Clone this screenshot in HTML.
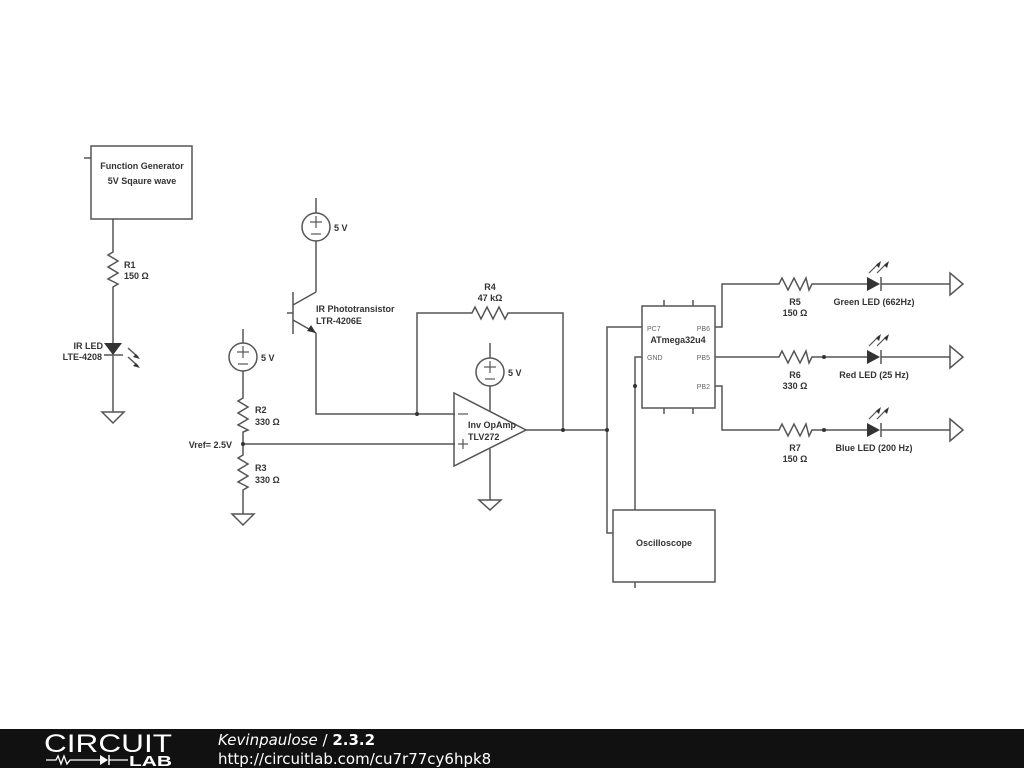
<!DOCTYPE html>
<html><head><style>
html,body{margin:0;padding:0;background:#fff;width:1024px;height:768px;overflow:hidden;font-family:"Liberation Sans",sans-serif}
svg text{font-family:"Liberation Sans",sans-serif;font-weight:bold;font-size:9px;fill:#333}
</style></head><body>
<svg width="1024" height="768" viewBox="0 0 1024 768" xmlns="http://www.w3.org/2000/svg">
<g stroke="#555" stroke-width="1.5" fill="none">
<rect x="91" y="146" width="101" height="73"/>
<line x1="84" y1="158" x2="91" y2="158"/>
<polyline points="113,219 113,252 108,255 118,261 108,267 118,273 108,279 118,284 113,287 113,343"/>
<line x1="113" y1="355" x2="113" y2="412"/>
<line x1="104" y1="355" x2="123" y2="355"/>
<polygon points="102,412 124,412 113,423"/>
<line x1="128" y1="348" x2="138" y2="357"/><line x1="128" y1="357" x2="138" y2="366"/>
<line x1="316" y1="198" x2="316" y2="213"/>
<circle cx="316" cy="227" r="14"/>
<line x1="316" y1="241" x2="316" y2="292"/>
<line x1="293" y1="292" x2="293" y2="334"/>
<line x1="287" y1="313" x2="293" y2="313"/>
<line x1="293" y1="305" x2="316" y2="292"/>
<line x1="293" y1="320" x2="316" y2="333"/>
<polyline points="316,333 316,414 455,414"/>
<line x1="243" y1="329" x2="243" y2="343"/>
<circle cx="243" cy="357" r="14"/>
<polyline points="243,371 243,398 238,401 248,407 238,413 248,419 238,425 248,430 243,432 243,455 238,458 248,464 238,470 248,476 238,482 248,487 243,490 243,514"/>
<polygon points="232,514 254,514 243,525"/>
<line x1="243" y1="444" x2="455" y2="444"/>
<polygon points="454,393 454,466 526,430"/>
<line x1="490" y1="343" x2="490" y2="358"/>
<circle cx="490" cy="372" r="14"/>
<line x1="490" y1="386" x2="490" y2="412"/>
<line x1="490" y1="449" x2="490" y2="500"/>
<polygon points="479,500 501,500 490,510"/>
<polyline points="417,414 417,313 472,313 475,307 481,319 487,307 493,319 499,307 505,319 508,313 563,313 563,430"/>
<line x1="526" y1="430" x2="607" y2="430"/>
<polyline points="642,327 607,327 607,533 613,533"/>
<rect x="642" y="306" width="73" height="102"/>
<line x1="664" y1="300" x2="664" y2="306"/><line x1="693" y1="300" x2="693" y2="306"/>
<line x1="664" y1="408" x2="664" y2="414"/><line x1="693" y1="408" x2="693" y2="414"/>
<polyline points="642,357 635,357 635,510"/>
<rect x="613" y="510" width="102" height="72"/>
<line x1="635" y1="582" x2="635" y2="588"/>
<polyline points="715,327 722,327 722,284 779,284 782,278 788,290 794,278 800,290 806,278 809,290 812,284 867,284"/>
<polyline points="715,357 779,357 782,351 788,363 794,351 800,363 806,351 809,363 812,357 867,357"/>
<polyline points="715,386 722,386 722,430 779,430 782,424 788,436 794,424 800,436 806,424 809,436 812,430 867,430"/>
<line x1="881" y1="284" x2="950" y2="284"/><line x1="881" y1="357" x2="950" y2="357"/><line x1="881" y1="430" x2="950" y2="430"/>
<line x1="881" y1="277" x2="881" y2="291"/><line x1="881" y1="350" x2="881" y2="364"/><line x1="881" y1="423" x2="881" y2="437"/>
<polygon points="950,273 950,295 963,284"/><polygon points="950,346 950,368 963,357"/><polygon points="950,419 950,441 963,430"/>
<g stroke-width="1.2">
<line x1="869" y1="273" x2="879" y2="263"/><line x1="877" y1="273" x2="887" y2="263"/>
<line x1="869" y1="346" x2="879" y2="336"/><line x1="877" y1="346" x2="887" y2="336"/>
<line x1="869" y1="419" x2="879" y2="409"/><line x1="877" y1="419" x2="887" y2="409"/>
</g>
<!-- +/- signs -->
<g stroke-width="1.2">
<line x1="310" y1="222" x2="322" y2="222"/><line x1="316" y1="216" x2="316" y2="228"/><line x1="311" y1="234" x2="321" y2="234"/>
<line x1="237" y1="352" x2="249" y2="352"/><line x1="243" y1="346" x2="243" y2="358"/><line x1="238" y1="364" x2="248" y2="364"/>
<line x1="484" y1="367" x2="496" y2="367"/><line x1="490" y1="361" x2="490" y2="373"/><line x1="485" y1="379" x2="495" y2="379"/>
<line x1="458" y1="414" x2="468" y2="414"/>
<line x1="458" y1="444" x2="468" y2="444"/><line x1="463" y1="439" x2="463" y2="449"/>
</g>
</g>
<g fill="#333">
<polygon points="104,343 122,343 113,355"/>
<polygon points="867,277 867,291 880,284"/><polygon points="867,350 867,364 880,357"/><polygon points="867,423 867,437 880,430"/>
<polygon points="316,333 307,331 311,325"/>
<polygon points="140,359 133,357 136,354"/><polygon points="140,368 133,366 136,363"/>
<polygon points="881,261 879,268 876,265"/><polygon points="889,261 887,268 884,265"/>
<polygon points="881,334 879,341 876,338"/><polygon points="889,334 887,341 884,338"/>
<polygon points="881,407 879,414 876,411"/><polygon points="889,407 887,414 884,411"/>
<circle cx="243" cy="444" r="2"/><circle cx="417" cy="414" r="2"/><circle cx="563" cy="430" r="2"/><circle cx="607" cy="430" r="2"/><circle cx="635" cy="386" r="2"/><circle cx="824" cy="357" r="2"/><circle cx="824" cy="430" r="2"/>
</g>
<text x="142" y="169" text-anchor="middle">Function Generator</text>
<text x="142" y="184" text-anchor="middle">5V Sqaure wave</text>
<text x="124" y="268">R1</text><text x="124" y="279">150 Ω</text>
<text x="103" y="349" text-anchor="end">IR LED</text><text x="102" y="360" text-anchor="end">LTE-4208</text>
<text x="334" y="231">5 V</text>
<text x="316" y="312">IR Phototransistor</text><text x="316" y="324">LTR-4206E</text>
<text x="261" y="361">5 V</text>
<text x="255" y="413">R2</text><text x="255" y="425">330 Ω</text>
<text x="232" y="448" text-anchor="end">Vref= 2.5V</text>
<text x="255" y="471">R3</text><text x="255" y="483">330 Ω</text>
<text x="490" y="290" text-anchor="middle">R4</text><text x="490" y="301" text-anchor="middle">47 kΩ</text>
<text x="508" y="376">5 V</text>
<text x="468" y="428">Inv OpAmp</text><text x="468" y="440">TLV272</text>
<text x="678" y="343" text-anchor="middle">ATmega32u4</text>
<text x="647" y="331" style="font-weight:normal;font-size:7px;fill:#666">PC7</text>
<text x="647" y="360" style="font-weight:normal;font-size:7px;fill:#666">GND</text>
<text x="710" y="331" text-anchor="end" style="font-weight:normal;font-size:7px;fill:#666">PB6</text>
<text x="710" y="360" text-anchor="end" style="font-weight:normal;font-size:7px;fill:#666">PB5</text>
<text x="710" y="389" text-anchor="end" style="font-weight:normal;font-size:7px;fill:#666">PB2</text>
<text x="664" y="546" text-anchor="middle">Oscilloscope</text>
<text x="795" y="305" text-anchor="middle">R5</text><text x="795" y="316" text-anchor="middle">150 Ω</text>
<text x="874" y="305" text-anchor="middle">Green LED (662Hz)</text>
<text x="795" y="378" text-anchor="middle">R6</text><text x="795" y="389" text-anchor="middle">330 Ω</text>
<text x="874" y="378" text-anchor="middle">Red LED (25 Hz)</text>
<text x="795" y="451" text-anchor="middle">R7</text><text x="795" y="462" text-anchor="middle">150 Ω</text>
<text x="874" y="451" text-anchor="middle">Blue LED (200 Hz)</text>
<rect x="0" y="729" width="1024" height="39" fill="#111"/>
<text x="44" y="752" textLength="128" lengthAdjust="spacingAndGlyphs" style="font-weight:normal;font-size:25px;fill:#fff">CIRCUIT</text>
<polyline points="46,760 56,760 58,756 61,764 64,756 67,764 70,760 100,760" stroke="#fff" stroke-width="1.3" fill="none"/>
<polygon points="100,755 100,765 108,760" fill="#fff"/><line x1="109" y1="755" x2="109" y2="765" stroke="#fff" stroke-width="1.5"/>
<line x1="109" y1="760" x2="128" y2="760" stroke="#fff" stroke-width="1.3"/>
<text x="129" y="766" textLength="43" lengthAdjust="spacingAndGlyphs" style="font-weight:bold;font-size:15px;fill:#fff">LAB</text>
<text x="218" y="745" style="font-weight:normal;font-style:italic;font-size:15px;fill:#fff;font-family:'DejaVu Sans',sans-serif">Kevinpaulose <tspan font-style="normal">/</tspan> <tspan font-style="normal" font-weight="bold">2.3.2</tspan></text>
<text x="218" y="764" style="font-weight:normal;font-size:15px;fill:#fff;font-family:'DejaVu Sans',sans-serif">http://circuitlab.com/cu7r77cy6hpk8</text>
</svg>
</body></html>
